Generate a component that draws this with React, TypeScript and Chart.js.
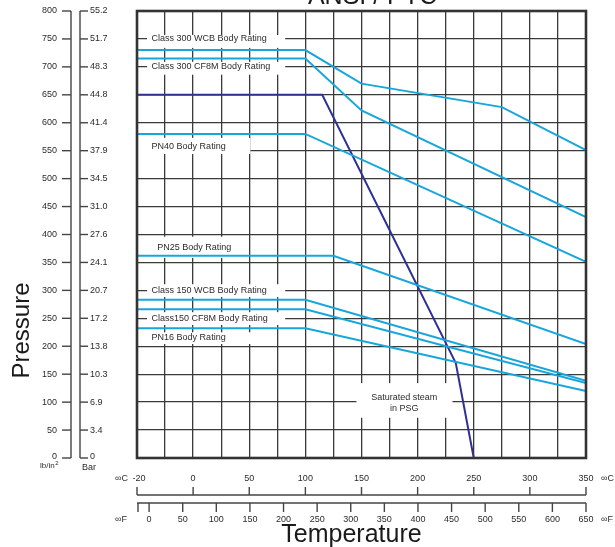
import React, { useEffect, useRef } from "react";
import { Chart, registerables } from "chart.js";

Chart.register(...registerables);

// ---------- text ----------
const titleText = "ANSI / PTC";
const xTitle = "Temperature";
const yTitle = "Pressure";
const psiUnit = "lb/in";
const barUnit = "Bar";
const cUnit = "∞C";
const fUnit = "∞F";

// ---------- scales ----------
const xMin = -50; // left edge of grid (labelled "-20" on the °C axis)
const xMax = 350;
const xGridStep = 25;
const psiMin = 0;
const psiMax = 800;
const psiStep = 50;

const psiTicks = [0, 50, 100, 150, 200, 250, 300, 350, 400, 450, 500, 550, 600, 650, 700, 750, 800];
const barLabels = ["0", "3.4", "6.9", "10.3", "13.8", "17.2", "20.7", "24.1", "27.6", "31.0", "34.5", "37.9", "41.4", "44.8", "48.3", "51.7", "55.2"];
const celsiusTicks = [-50, 0, 50, 100, 150, 200, 250, 300, 350];
const celsiusLabels = ["-20", "0", "50", "100", "150", "200", "250", "300", "350"];
const fahrenheitMin = -18;
const fahrenheitMax = 650;
const fahrenheitTicks = [0, 50, 100, 150, 200, 250, 300, 350, 400, 450, 500, 550, 600, 650];

// ---------- series (x: temperature scale units, y: psi) ----------
const wcb300T = [-50, 100, 150, 275, 350];
const wcb300P = [730, 730, 670, 628, 551];
const cf8m300T = [-50, 100, 150, 350];
const cf8m300P = [715, 715, 622, 431];
const steamT = [-50, 115, 234, 250];
const steamP = [650, 650, 170, 0];
const pn40T = [-50, 100, 350];
const pn40P = [580, 580, 351];
const pn25T = [-50, 125, 350];
const pn25P = [362, 362, 204];
const wcb150T = [-50, 100, 350];
const wcb150P = [283, 283, 138];
const cf8m150T = [-50, 100, 350];
const cf8m150P = [266, 266, 134];
const pn16T = [-50, 100, 350];
const pn16P = [232, 232, 120];

// ---------- annotations (data units) ----------
const labelTexts = [
  "Class 300 WCB Body Rating",
  "Class 300 CF8M Body Rating",
  "PN40 Body Rating",
  "PN25 Body Rating",
  "Class 150 WCB Body Rating",
  "Class150 CF8M Body Rating",
  "PN16 Body Rating",
];
const labelX = [-37, -37, -37, -32, -37, -37, -37];
const labelY = [750, 700, 558, 376, 300, 250, 215];
const boxX0 = [-41, -41, -50, -50, -41, -41, -41];
const boxX1 = [82, 82, 51, 47, 82, 82, 52];
const boxY0 = [734, 686, 544, 358, 288, 238, 204];
const boxY1 = [757, 709, 573, 396, 311, 261, 225];

const steamLines = ["Saturated steam", "in PSG"];
const steamTextX = 188;
const steamTextY = [109, 88];
const steamBox = [145.5, 231, 72, 134];

const BLUE = "#17a6dc";
const NAVY = "#2e3192";
const INK = "#2b2b2b";
const GRID = "#3a3a3a";
const FONT = "'Liberation Sans', Arial, sans-serif";

function pts(t: number[], p: number[]) {
  return t.map((v, i) => ({ x: v, y: p[i] }));
}

const decorPlugin = {
  id: "decor",
  beforeDatasetsDraw(chart: any) {
    const { ctx } = chart;
    const x = chart.scales.x;
    const y = chart.scales.y;
    ctx.save();
    ctx.fillStyle = "#ffffff";
    for (let i = 0; i < labelTexts.length; i++) {
      const x0 = x.getPixelForValue(boxX0[i]);
      const x1 = x.getPixelForValue(boxX1[i]);
      const y0 = y.getPixelForValue(boxY1[i]);
      const y1 = y.getPixelForValue(boxY0[i]);
      ctx.fillRect(x0, y0, x1 - x0, y1 - y0);
    }
    {
      const x0 = x.getPixelForValue(steamBox[0]);
      const x1 = x.getPixelForValue(steamBox[1]);
      const y0 = y.getPixelForValue(steamBox[3]);
      const y1 = y.getPixelForValue(steamBox[2]);
      ctx.fillRect(x0, y0, x1 - x0, y1 - y0);
    }
    ctx.fillStyle = INK;
    ctx.font = `9px ${FONT}`;
    ctx.textBaseline = "middle";
    ctx.textAlign = "left";
    for (let i = 0; i < labelTexts.length; i++) {
      ctx.fillText(labelTexts[i], x.getPixelForValue(labelX[i]), y.getPixelForValue(labelY[i]));
    }
    ctx.textAlign = "center";
    for (let i = 0; i < steamLines.length; i++) {
      ctx.fillText(steamLines[i], x.getPixelForValue(steamTextX), y.getPixelForValue(steamTextY[i]));
    }
    ctx.restore();
  },
  afterDraw(chart: any) {
    const { ctx, chartArea } = chart;
    const x = chart.scales.x;
    const y = chart.scales.y;
    const f = chart.scales.f;
    const { left, right, top, bottom } = chartArea;
    ctx.save();

    // frame
    ctx.strokeStyle = "#333";
    ctx.lineWidth = 2.6;
    ctx.strokeRect(left, top, right - left, bottom - top);

    ctx.strokeStyle = "#444";
    ctx.fillStyle = INK;
    ctx.lineWidth = 1.4;
    ctx.font = `9px ${FONT}`;

    // psi axis
    const psiX = left - 66;
    const y800 = y.getPixelForValue(psiMax);
    const y0 = y.getPixelForValue(psiMin);
    ctx.beginPath();
    ctx.moveTo(psiX, y800);
    ctx.lineTo(psiX, y0);
    ctx.stroke();
    ctx.textAlign = "right";
    ctx.textBaseline = "middle";
    psiTicks.forEach((v) => {
      const py = y.getPixelForValue(v);
      ctx.beginPath();
      ctx.moveTo(psiX - 9, py);
      ctx.lineTo(psiX, py);
      ctx.stroke();
      ctx.fillText(String(v), psiX - 14, v === 0 ? py - 1 : py);
    });
    ctx.font = `8px ${FONT}`;
    ctx.textAlign = "left";
    ctx.fillText(psiUnit, psiX - 31, y0 + 8);
    const uw = ctx.measureText(psiUnit).width;
    ctx.font = `6px ${FONT}`;
    ctx.fillText("2", psiX - 31 + uw + 0.5, y0 + 5);

    // bar axis
    const barX = left - 57;
    ctx.font = `9px ${FONT}`;
    ctx.beginPath();
    ctx.moveTo(barX, y800);
    ctx.lineTo(barX, y0);
    ctx.stroke();
    ctx.textAlign = "left";
    psiTicks.forEach((v, i) => {
      const py = y.getPixelForValue(v);
      ctx.beginPath();
      ctx.moveTo(barX, py);
      ctx.lineTo(barX + 8, py);
      ctx.stroke();
      ctx.fillText(barLabels[i], barX + 10, v === 0 ? py - 1 : py);
    });
    ctx.fillText(barUnit, barX + 2, y0 + 10);

    // celsius axis
    const cY = bottom + 37;
    ctx.beginPath();
    ctx.moveTo(left, cY);
    ctx.lineTo(right, cY);
    ctx.stroke();
    ctx.textAlign = "center";
    celsiusTicks.forEach((v, i) => {
      const px = x.getPixelForValue(v);
      ctx.beginPath();
      ctx.moveTo(px, cY - 8);
      ctx.lineTo(px, cY);
      ctx.stroke();
      ctx.fillText(celsiusLabels[i], px + (i === 0 ? 2 : 0), cY - 16);
    });
    ctx.textAlign = "left";
    ctx.fillText(cUnit, left - 22, cY - 16);
    ctx.fillText(cUnit, right + 15, cY - 16);

    // fahrenheit axis
    const fY = bottom + 45;
    ctx.beginPath();
    ctx.moveTo(left, fY);
    ctx.lineTo(right, fY);
    ctx.stroke();
    ctx.beginPath();
    ctx.moveTo(f.getPixelForValue(fahrenheitMin) + 1, fY);
    ctx.lineTo(f.getPixelForValue(fahrenheitMin) + 1, fY + 9);
    ctx.stroke();
    ctx.textAlign = "center";
    fahrenheitTicks.forEach((v) => {
      const px = f.getPixelForValue(v);
      ctx.beginPath();
      ctx.moveTo(px, fY);
      ctx.lineTo(px, fY + 9);
      ctx.stroke();
      ctx.fillText(String(v), px, fY + 17);
    });
    ctx.textAlign = "left";
    ctx.fillText(fUnit, left - 22, fY + 17);
    ctx.fillText(fUnit, right + 15, fY + 17);

    // titles
    ctx.fillStyle = "#1a1a1a";
    ctx.font = `25px ${FONT}`;
    ctx.textAlign = "center";
    ctx.textBaseline = "alphabetic";
    ctx.fillText(xTitle, (left + right) / 2 - 10, bottom + 84);
    ctx.fillText(titleText, (left + right) / 2 + 11, 4);
    ctx.save();
    ctx.translate(29, (top + bottom) / 2 + 96);
    ctx.rotate(-Math.PI / 2);
    ctx.font = `24px ${FONT}`;
    ctx.textAlign = "center";
    ctx.fillText(yTitle, 0, 0);
    ctx.restore();

    ctx.restore();
  },
};

export default function App() {
  const ref = useRef<HTMLCanvasElement | null>(null);
  useEffect(() => {
    document.body.style.margin = "0";
    const canvas = ref.current;
    if (!canvas) return;
    const line = (label: string, t: number[], p: number[], color: string) => ({
      label,
      data: pts(t, p),
      borderColor: color,
      backgroundColor: color,
      borderWidth: 2,
      pointRadius: 0,
      tension: 0,
      fill: false,
    });
    const chart = new Chart(canvas, {
      type: "line",
      data: {
        datasets: [
          line("Class 300 WCB", wcb300T, wcb300P, BLUE),
          line("Class 300 CF8M", cf8m300T, cf8m300P, BLUE),
          line("PN40", pn40T, pn40P, BLUE),
          line("PN25", pn25T, pn25P, BLUE),
          line("Class 150 WCB", wcb150T, wcb150P, BLUE),
          line("Class150 CF8M", cf8m150T, cf8m150P, BLUE),
          line("PN16", pn16T, pn16P, BLUE),
          line("Saturated steam", steamT, steamP, NAVY),
        ],
      },
      options: {
        responsive: false,
        animation: false,
        events: [],
        layout: { padding: { left: 137, top: 11, right: 29, bottom: 89 } },
        plugins: { legend: { display: false }, tooltip: { enabled: false }, title: { display: false } },
        scales: {
          x: {
            type: "linear",
            min: xMin,
            max: xMax,
            ticks: { display: false, stepSize: xGridStep },
            grid: { color: GRID, lineWidth: 1.3, drawTicks: false },
            border: { display: false },
          },
          y: {
            type: "linear",
            min: psiMin,
            max: psiMax,
            ticks: { display: false, stepSize: psiStep },
            grid: { color: GRID, lineWidth: 1.3, drawTicks: false },
            border: { display: false },
          },
          f: {
            type: "linear",
            axis: "x",
            position: "bottom",
            min: fahrenheitMin,
            max: fahrenheitMax,
            display: false,
          },
        },
      },
      plugins: [decorPlugin],
    } as any);
    return () => chart.destroy();
  }, []);
  return (
    <div style={{ width: 615, height: 547, background: "#fff" }}>
      <canvas ref={ref} width={615} height={547} style={{ display: "block" }} />
    </div>
  );
}
